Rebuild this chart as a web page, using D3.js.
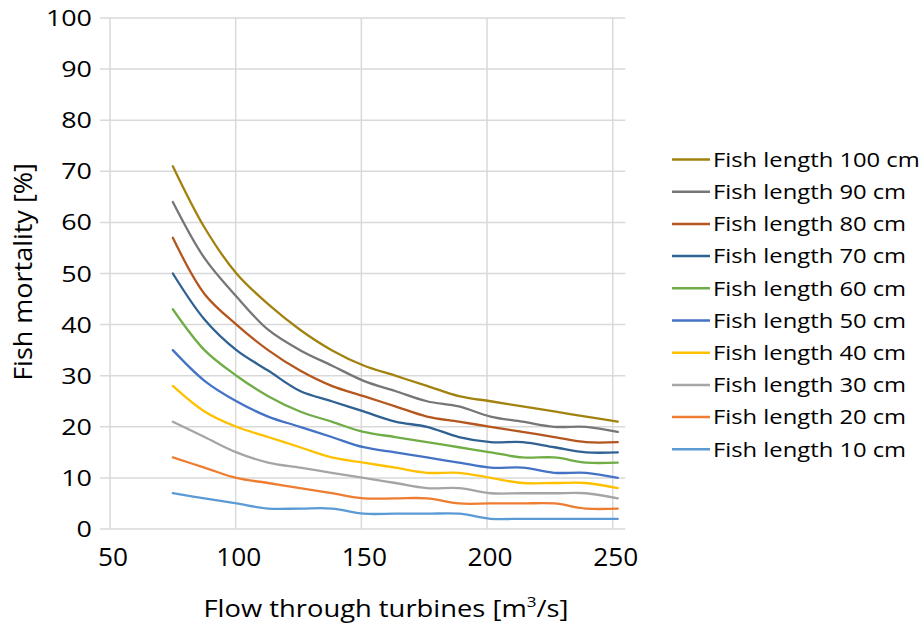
<!DOCTYPE html>
<html>
<head>
<meta charset="utf-8">
<script src="https://cdn.jsdelivr.net/npm/d3@7"></script>
<style>
  body { margin: 0; background: #fff; }
  svg { display: block; font-family: "Open Sans", "Noto Sans", sans-serif; }
</style>
</head>
<body>
<svg width="922" height="625"></svg>
<script>
var svg = d3.select("svg"),
    width = +svg.attr("width"),
    height = +svg.attr("height");

// flow through turbines (m3/s) at each sample point
var flows = [75, 87.6, 100.3, 112.9, 125.6, 138.2, 150.9, 163.5, 176.1, 188.8, 201.4, 214.1, 226.7, 239.4, 252];

// mortality [%] per fish length
var len100 = [71, 59, 50, 44, 39, 35, 32, 30, 28, 26, 25, 24, 23, 22, 21];
var len90  = [64, 53, 45.5, 39, 35, 32, 29, 27, 25, 24, 22, 21, 20, 20, 19];
var len80  = [57, 46, 40, 35, 31, 28, 26, 24, 22, 21, 20, 19, 18, 17, 17];
var len70  = [50, 41, 35, 31, 27, 25, 23, 21, 20, 18, 17, 17, 16, 15, 15];
var len60  = [43, 35, 30, 26, 23, 21, 19, 18, 17, 16, 15, 14, 14, 13, 13];
var len50  = [35, 29, 25, 22, 20, 18, 16, 15, 14, 13, 12, 12, 11, 11, 10];
var len40  = [28, 23, 20, 18, 16, 14, 13, 12, 11, 11, 10, 9, 9, 9, 8];
var len30  = [21, 18, 15, 13, 12, 11, 10, 9, 8, 8, 7, 7, 7, 7, 6];
var len20  = [14, 12, 10, 9, 8, 7, 6, 6, 6, 5, 5, 5, 5, 4, 4];
var len10  = [7, 6, 5, 4, 4, 4, 3, 3, 3, 3, 2, 2, 2, 2, 2];

var seriesNames = ["Fish length 100 cm", "Fish length 90 cm", "Fish length 80 cm", "Fish length 70 cm",
  "Fish length 60 cm", "Fish length 50 cm", "Fish length 40 cm", "Fish length 30 cm",
  "Fish length 20 cm", "Fish length 10 cm"];
var seriesValues = [len100, len90, len80, len70, len60, len50, len40, len30, len20, len10];
var seriesColors = ["#A2820F", "#767676", "#B4561E", "#2F6193", "#70AD47",
  "#4472C4", "#FFC000", "#A5A5A5", "#ED7D31", "#5B9BD5"];

var xTicks = [50, 100, 150, 200, 250];
var yTicks = [0, 10, 20, 30, 40, 50, 60, 70, 80, 90, 100];

var x = d3.scaleLinear().domain([50, 255]).range([110, 625.3]);
var y = d3.scaleLinear().domain([0, 100]).range([529, 18]);

var grid = svg.append("g").attr("stroke", "#d9d9d9").attr("stroke-width", 1.5);

// horizontal gridlines (start a little left of the axis like a tick)
grid.selectAll("line.h")
  .data(yTicks)
  .enter().append("line")
    .attr("class", "h")
    .attr("x1", 100)
    .attr("x2", x.range()[1])
    .attr("y1", function(d) { return y(d); })
    .attr("y2", function(d) { return y(d); });

// vertical gridlines
grid.selectAll("line.v")
  .data(xTicks)
  .enter().append("line")
    .attr("class", "v")
    .attr("x1", function(d) { return x(d); })
    .attr("x2", function(d) { return x(d); })
    .attr("y1", y(100))
    .attr("y2", y(0));

// y tick labels (the original font is wider, so stretch a bit)
svg.append("g")
    .attr("font-size", 22.4)
    .attr("fill", "#000")
    .attr("text-anchor", "end")
  .selectAll("text")
  .data(yTicks)
  .enter().append("text")
    .attr("transform", function(d) { return "translate(92," + y(d) + ") scale(1.2,1)"; })
    .attr("dy", "0.36em")
    .text(function(d) { return d; });

// x tick labels
svg.append("g")
    .attr("font-size", 25.5)
    .attr("fill", "#000")
    .attr("text-anchor", "middle")
  .selectAll("text")
  .data(xTicks)
  .enter().append("text")
    .attr("transform", function(d) { return "translate(" + (x(d) + 3) + ",566) scale(1.03,1)"; })
    .text(function(d) { return d; });

// axis titles
var xTitle = svg.append("text")
    .attr("transform", "translate(386,617) scale(1.14,1)")
    .attr("text-anchor", "middle")
    .attr("font-size", 24);
xTitle.append("tspan").text("Flow through turbines [m");
xTitle.append("tspan").attr("font-size", 15).attr("dy", -10).text("3");
xTitle.append("tspan").attr("dy", 10).text("/s]");

svg.append("text")
    .attr("transform", "translate(32,272) rotate(-90) scale(1.08,1)")
    .attr("text-anchor", "middle")
    .attr("font-size", 25)
    .text("Fish mortality [%]");

// lines, smallest fish drawn first
var line = d3.line()
    .x(function(d, i) { return x(flows[i]); })
    .y(function(d) { return y(d); })
    .curve(d3.curveCatmullRom.alpha(0.5));

var order = d3.range(seriesValues.length).reverse();

svg.append("g")
    .attr("fill", "none")
    .attr("stroke-width", 2.3)
    .attr("stroke-linejoin", "round")
    .attr("stroke-linecap", "round")
  .selectAll("path")
  .data(order)
  .enter().append("path")
    .attr("stroke", function(i) { return seriesColors[i]; })
    .attr("d", function(i) { return line(seriesValues[i]); });

// legend
var legend = svg.append("g")
    .attr("font-size", 20.5)
  .selectAll("g")
  .data(seriesNames)
  .enter().append("g")
    .attr("transform", function(d, i) { return "translate(672," + (159.5 + i * 32.2) + ")"; });

legend.append("line")
    .attr("x1", 0)
    .attr("x2", 38)
    .attr("stroke-width", 2.5)
    .attr("stroke", function(d, i) { return seriesColors[i]; });

legend.append("text")
    .attr("transform", "translate(41,0) scale(1.16,1)")
    .attr("dy", "0.36em")
    .text(function(d) { return d; });
</script>
</body>
</html>
